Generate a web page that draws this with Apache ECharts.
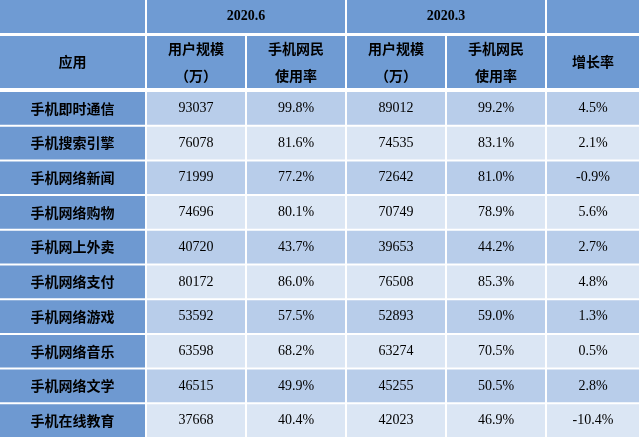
<!DOCTYPE html>
<html><head><meta charset="utf-8">
<script src="https://cdn.jsdelivr.net/npm/echarts@6/dist/echarts.min.js"></script>
<style>html,body{margin:0;padding:0;background:#fff}#c{width:641px;height:439px}</style>
</head><body><div id="c"></div>
<script>
const apps = ['手机即时通信', '手机搜索引擎', '手机网络新闻', '手机网络购物', '手机网上外卖', '手机网络支付', '手机网络游戏', '手机网络音乐', '手机网络文学', '手机在线教育'];
const users202006 = [93037, 76078, 71999, 74696, 40720, 80172, 53592, 63598, 46515, 37668];
const rate202006 = ['99.8%', '81.6%', '77.2%', '80.1%', '43.7%', '86.0%', '57.5%', '68.2%', '49.9%', '40.4%'];
const users202003 = [89012, 74535, 72642, 70749, 39653, 76508, 52893, 63274, 45255, 42023];
const rate202003 = ['99.2%', '83.1%', '81.0%', '78.9%', '44.2%', '85.3%', '59.0%', '70.5%', '50.5%', '46.9%'];
const growth = ['4.5%', '2.1%', '-0.9%', '5.6%', '2.7%', '4.8%', '1.3%', '0.5%', '2.8%', '-10.4%'];
const periods = ['2020.6', '2020.3'];
const subHeaders = ['应用', '用户规模\n（万）', '手机网民\n使用率', '用户规模\n（万）', '手机网民\n使用率', '增长率'];

// layout
const colEdges = [0, 147, 247, 347, 447, 547, 641];
const rowH = 34.7;
const gap = 2;
const headBg = '#6f9bd3', firstColBg = '#6e99d1', oddBg = '#b8cdea', evenBg = '#dbe6f4';
const cn = '"Noto Sans CJK SC", sans-serif';
const serif = '"Liberation Serif", "DejaVu Serif", serif';

// cells: [col, colSpan, rowTop, rowBottom, text, kind]
const cells = [];
cells.push([0, 1, 0, 33, '', 'head']);
cells.push([1, 2, 0, 33, periods[0], 'period']);
cells.push([3, 2, 0, 33, periods[1], 'period']);
cells.push([5, 1, 0, 33, '', 'head']);
subHeaders.forEach((t, i) => cells.push([i, 1, 36, 88, t, 'head']));
apps.forEach((a, r) => {
  const top = 92 + r * rowH, bot = top + rowH - gap;
  const bg = r % 2 === 0 ? 'odd' : 'even';
  cells.push([0, 1, top, bot, a, 'app']);
  [users202006[r], rate202006[r], users202003[r], rate202003[r], growth[r]].forEach((v, c) =>
    cells.push([c + 1, 1, top, bot, String(v), bg]));
});

const chart = echarts.init(document.getElementById('c'));
chart.setOption({
  animation: false,
  grid: { left: 0, right: 0, top: 0, bottom: 0 },
  xAxis: { type: 'value', min: 0, max: 641, show: false },
  yAxis: { type: 'value', min: 0, max: 439, inverse: true, show: false },
  series: [{
    type: 'custom',
    data: cells,
    renderItem: (params, api) => {
      const d = cells[params.dataIndex];
      const x0 = colEdges[d[0]], x1 = colEdges[d[0] + d[1]] - gap;
      const p0 = api.coord([x0, d[2]]), p1 = api.coord([x1, d[3]]);
      const kind = d[5];
      const fill = kind === 'odd' ? oddBg : kind === 'even' ? evenBg : kind === 'app' ? firstColBg : headBg;
      const isNum = kind === 'odd' || kind === 'even' || kind === 'period';
      return {
        type: 'group',
        children: [
          { type: 'rect', shape: { x: p0[0], y: p0[1], width: p1[0] - p0[0], height: p1[1] - p0[1] }, style: { fill } },
          { type: 'text', x: (p0[0] + p1[0]) / 2, y: (p0[1] + p1[1]) / 2,
            style: { text: d[4], align: 'center', verticalAlign: 'middle',
              font: (kind === 'odd' || kind === 'even' ? 'normal 14px ' : 'bold 14px ') + (isNum ? serif : cn),
              fill: '#000', lineHeight: 27 } }
        ]
      };
    }
  }]
});
</script></body></html>
